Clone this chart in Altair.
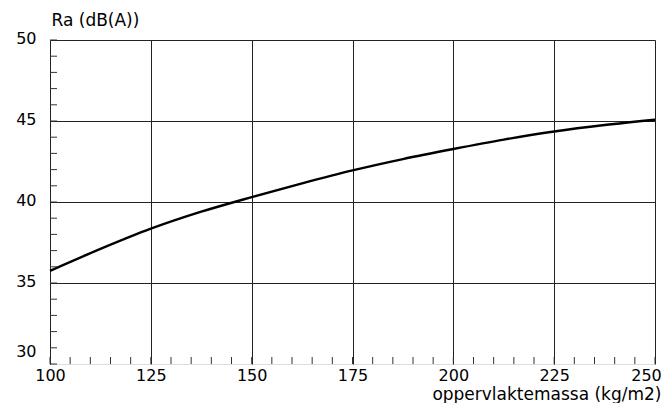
import altair as alt
import pandas as pd

# Curve
mass = [100, 112.5, 125, 137.5, 150, 162.5, 175, 187.5, 200, 212.5, 225, 237.5, 250]
ra = [35.75, 37.1, 38.35, 39.4, 40.3, 41.15, 41.95, 42.65, 43.27, 43.85, 44.35, 44.75, 45.08]

x_ticks = [100, 125, 150, 175, 200, 225, 250]
y_ticks = [30, 35, 40, 45, 50]
x_minor = list(range(100, 251, 5))
y_minor = list(range(30, 51, 1))

W, H = 605, 324
FONT = "DejaVu Sans"

xs = alt.Scale(domain=[100, 250], nice=False, zero=False)
ys = alt.Scale(domain=[30, 50], nice=False, zero=False)

curve_df = pd.DataFrame({"m": mass, "ra": ra})
xm_df = pd.DataFrame({"m": x_minor})
ym_df = pd.DataFrame({"v": y_minor})

line = alt.Chart(curve_df).mark_line(
    color="black", strokeWidth=2.4, interpolate="monotone"
).encode(
    x=alt.X(
        "m:Q", scale=xs,
        axis=alt.Axis(
            values=x_ticks, domain=False, ticks=False, grid=True,
            gridColor="#222", gridWidth=1, gridOpacity=1,
            labelFont=FONT, labelFontSize=16, labelColor="black", labelPadding=3,
            labelFlush=False,
            labelOffset={"condition": {"test": "datum.value == 250", "value": -9}, "value": 0},
            title="oppervlaktemassa (kg/m2)", titleFont=FONT, titleFontSize=17,
            titleFontWeight="normal", titleColor="black",
            titleAlign="right", titleX=W + 6, titleY=35,
            titleBaseline="alphabetic",
        ),
    ),
    y=alt.Y(
        "ra:Q", scale=ys,
        axis=alt.Axis(
            values=y_ticks, domain=True, domainColor="#222", domainWidth=1,
            ticks=False, grid=True, gridColor="#222", gridWidth=1,
            gridOpacity={"condition": {"test": "datum.value == 30", "value": 0}, "value": 1},
            labelOffset={"condition": {"test": "datum.value == 30", "value": -13}, "value": -2},
            labelFont=FONT, labelFontSize=16, labelColor="black", labelPadding=14,
            labelFlush=False,
            title="Ra (dB(A))", titleFont=FONT, titleFontSize=17,
            titleFontWeight="normal", titleColor="black", titleAngle=0,
            titleAlign="left", titleX=1, titleY=-15, titleBaseline="alphabetic",
        ),
    ),
)

xminor = alt.Chart(xm_df).mark_rule(color="#333", strokeWidth=1).encode(
    x=alt.X("m:Q", scale=xs),
    y=alt.value(H - 7),
    y2=alt.value(H),
)

yminor = alt.Chart(ym_df).mark_rule(color="#333", strokeWidth=1).encode(
    y=alt.Y("v:Q", scale=ys),
    x=alt.value(0),
    x2=alt.value(7),
)

chart = alt.layer(line, xminor, yminor).properties(
    width=W, height=H,
    autosize=alt.AutoSizeParams(type="none"),
    padding={"left": 42, "top": 32, "right": 7, "bottom": 39},
).configure_view(stroke=None).configure(background="white")

chart.save("out.html", embed_options={"renderer": "svg", "actions": False})
